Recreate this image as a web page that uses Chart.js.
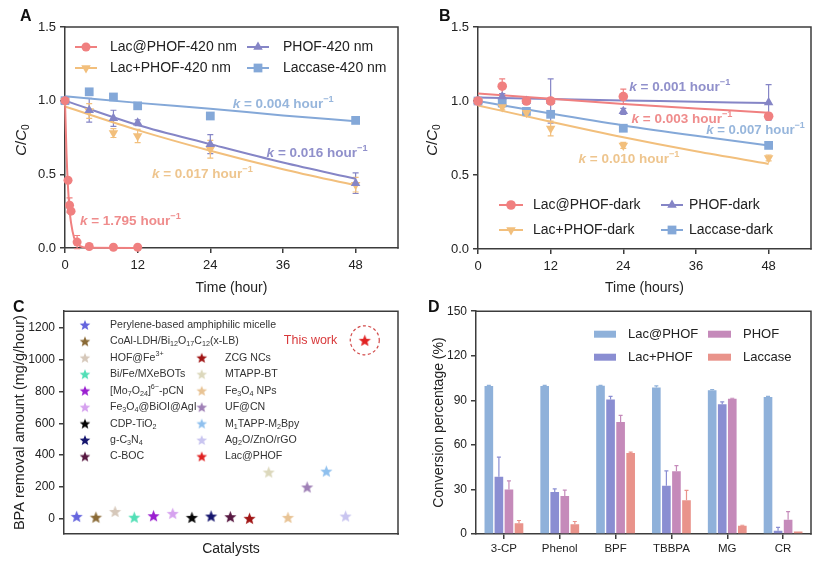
<!DOCTYPE html>
<html><head><meta charset="utf-8">
<script src="https://cdn.jsdelivr.net/npm/chart.js@4/dist/chart.umd.min.js"></script>
<style>
html,body{margin:0;padding:0;background:#fff}
#fig{position:relative;width:822px;height:564px;overflow:hidden;background:#fff}
#fig canvas{position:absolute}
.pl{position:absolute;font:bold 16px 'Liberation Sans',Arial,sans-serif;color:#111;line-height:18px}
</style></head>
<body><div id="fig">
<canvas id="cA" width="411" height="300" style="left:0px;top:0px"></canvas>
<canvas id="cB" width="411" height="300" style="left:411px;top:0px"></canvas>
<canvas id="cC" width="411" height="264" style="left:0px;top:300px"></canvas>
<canvas id="cD" width="411" height="264" style="left:411px;top:300px"></canvas>
<div class="pl" style="left:20px;top:7px">A</div>
<div class="pl" style="left:439px;top:7px">B</div>
<div class="pl" style="left:13px;top:298px">C</div>
<div class="pl" style="left:428px;top:298px">D</div>
</div>
<script>
// ===================== DATA =====================
// Panel A (420 nm)
const timeA_lacAt = [0, 0.5, 0.75, 1, 2, 4, 8, 12];
const valA_lacAt  = [1.0, 0.46, 0.29, 0.25, 0.04, 0.01, 0.005, 0.005];
const errA_lacAt  = [0, 0, 0.05, 0, 0.045, 0, 0, 0];
const timeA = [0, 4, 8, 12, 24, 48];
const valA_lacPlus  = [1.0, 0.93, 0.78, 0.76, 0.67, 0.43];
const errA_lacPlus  = [0, 0.05, 0.03, 0.045, 0.06, 0.05];
const valA_phof     = [1.0, 0.935, 0.88, 0.85, 0.705, 0.44];
const errA_phof     = [0, 0.08, 0.055, 0.02, 0.065, 0.07];
const valA_laccase  = [1.0, 1.06, 1.025, 0.965, 0.896, 0.866];
const errA_laccase  = [0, 0.02, 0.015, 0.015, 0.02, 0.01];
// fitted curves
const fitA_lacAt_t = [0, 0.25, 0.5, 0.75, 1, 1.5, 2, 3, 4, 12];
const fitA_lacAt_v = [1.0, 0.64, 0.41, 0.26, 0.17, 0.07, 0.03, 0.005, 0.001, 0];
const fitA_t = [0, 12, 24, 36, 48];
const fitA_lacPlus = [0.96, 0.80, 0.66, 0.535, 0.425];
const fitA_phof    = [1.0, 0.835, 0.705, 0.58, 0.47];
const fitA_laccase = [1.03, 0.985, 0.945, 0.9, 0.86];
const kA = ['*k* = 0.004 hour^{−1}', '*k* = 0.016 hour^{−1}', '*k* = 0.017 hour^{−1}', '*k* = 1.795 hour^{−1}'];
const legA = ['Lac@PHOF-420 nm', 'PHOF-420 nm', 'Lac+PHOF-420 nm', 'Laccase-420 nm'];

// Panel B (dark)
const timeB = [0, 4, 8, 12, 24, 48];
const valB_lacAt   = [1.0, 1.10, 1.0, 1.0, 1.03, 0.897];
const errB_lacAt   = [0, 0.05, 0.02, 0.02, 0.05, 0.02];
const valB_lacPlus = [1.0, 0.96, 0.92, 0.815, 0.70, 0.615];
const errB_lacPlus = [0, 0.02, 0.02, 0.05, 0.02, 0.02];
const valB_phof    = [1.0, 1.03, 1.0, 1.0, 0.93, 0.99];
const errB_phof    = [0, 0.02, 0.02, 0.15, 0.02, 0.12];
const valB_laccase = [1.0, 0.986, 0.93, 0.91, 0.816, 0.70];
const errB_laccase = [0, 0.01, 0.01, 0.01, 0.02, 0.01];
const fitB_t = [0, 12, 24, 36, 48];
const fitB_lacAt   = [1.05, 1.015, 0.98, 0.95, 0.92];
const fitB_lacPlus = [0.97, 0.86, 0.755, 0.66, 0.575];
const fitB_phof    = [1.023, 1.013, 1.004, 0.995, 0.986];
const fitB_laccase = [1.0, 0.915, 0.835, 0.765, 0.70];
const kB = ['*k* = 0.001 hour^{−1}', '*k* = 0.003 hour^{−1}', '*k* = 0.007 hour^{−1}', '*k* = 0.010 hour^{−1}'];
const legB = ['Lac@PHOF-dark', 'PHOF-dark', 'Lac+PHOF-dark', 'Laccase-dark'];

const timeTicks = [0, 12, 24, 36, 48];
const ratioTicks = [0, 0.5, 1.0, 1.5];

// Panel C
const catalysts = ['Perylene-based amphiphilic micelle', 'CoAl-LDH/Bi_{12}O_{17}C_{12}(x-LB)', 'HOF@Fe^{3+}',
  'Bi/Fe/MXeBOTs', '[Mo_{7}O_{24}]^{6−}-pCN', 'Fe_{3}O_{4}@BiOI@AgI', 'CDP-TiO_{2}', 'g-C_{3}N_{4}', 'C-BOC',
  'ZCG NCs', 'MTAPP-BT', 'Fe_{3}O_{4} NPs', 'UF@CN', 'M_{1}TAPP-M_{2}Bpy', 'Ag_{2}O/ZnO/rGO', 'Lac@PHOF'];
const bpaRemoval = [15, 10, 46, 10, 19, 34, 9, 17, 13, 3, 294, 9, 200, 300, 17, 1123];
const removalTicks = [0, 200, 400, 600, 800, 1000, 1200];

// Panel D
const compounds = ['3-CP', 'Phenol', 'BPF', 'TBBPA', 'MG', 'CR'];
const dLacAt      = [99.6, 99.7, 99.8, 98.7, 96.7, 92.2];
const dLacAtErr   = [0.4, 0.3, 0.2, 1.0, 0.6, 0.4];
const dLacPlus    = [38.5, 28.2, 90.6, 32.5, 87.3, 2.2];
const dLacPlusErr = [13.2, 2.2, 2.0, 10.0, 1.6, 2.3];
const dPhof       = [30.0, 25.6, 75.4, 42.2, 91.0, 9.6];
const dPhofErr    = [5.8, 4.0, 4.4, 3.8, 0.4, 5.4];
const dLaccase    = [7.3, 6.6, 54.6, 22.8, 5.6, 1.6];
const dLaccaseErr = [1.8, 1.8, 0.5, 6.6, 0.3, 0];
const convTicks = [0, 30, 60, 90, 120, 150];

// ===================== STYLE =====================
const FONT = "'Liberation Sans', Arial, Helvetica, sans-serif";
const AXIS = '#3c3c3c';
const COL = {red:'#f08080', orange:'#f2bf7c', purple:'#8585c6', blue:'#84a8d8'};
const KCOL = {red:'#ef8c8c', orange:'#eec58e', purple:'#9090cb', blue:'#97b6dc'};
const DCOL = ['#8fb1da', '#8a8ed2', '#c58aba', '#e9938b'];
const STARCOL = ['#6565de', '#8a6a36', '#d6c8ba', '#52dfb6', '#9a1fd0', '#d6a2ef', '#050505', '#16166e',
  '#581942', '#a01414', '#dcd8bc', '#e8c394', '#9f80b6', '#8fc0ee', '#c9c5f0', '#e02222'];

Chart.defaults.font.family = FONT;
Chart.defaults.color = '#222';
Chart.defaults.animation = false;

// ===================== HELPERS =====================
function xy(xs, ys){ return xs.map((x, i) => ({x: x, y: ys[i]})); }

function parseRich(str){
  const segs = []; let italic = false; let buf = ''; let i = 0;
  const push = () => { if (buf) { segs.push({t: buf, italic: italic, mode: 'n'}); buf = ''; } };
  while (i < str.length){
    const c = str[i];
    if (c === '*'){ push(); italic = !italic; i++; continue; }
    if ((c === '_' || c === '^') && str[i+1] === '{'){
      push(); const end = str.indexOf('}', i);
      segs.push({t: str.slice(i+2, end), italic: italic, mode: c === '_' ? 'sub' : 'sup'});
      i = end + 1; continue;
    }
    buf += c; i++;
  }
  push(); return segs;
}
function drawRich(ctx, str, x, y, size, color, weight, align){
  const segs = parseRich(str);
  const fontFor = s => (s.italic ? 'italic ' : '') + (weight || 'normal') + ' ' + (s.mode === 'n' ? size : size*0.68) + 'px ' + FONT;
  let w = 0;
  segs.forEach(s => { ctx.font = fontFor(s); s.w = ctx.measureText(s.t).width; w += s.w; });
  let cx = align === 'right' ? x - w : (align === 'center' ? x - w/2 : x);
  ctx.fillStyle = color; ctx.textBaseline = 'middle'; ctx.textAlign = 'left';
  segs.forEach(s => {
    ctx.font = fontFor(s);
    const dy = s.mode === 'sub' ? size*0.28 : (s.mode === 'sup' ? -size*0.36 : 0);
    ctx.fillText(s.t, cx, y + dy); cx += s.w;
  });
}
function drawMarker(ctx, style, x, y, r, rot){
  ctx.beginPath();
  if (style === 'circle'){ ctx.arc(x, y, r, 0, Math.PI*2); }
  else if (style === 'rect'){ const s = r*Math.SQRT1_2; ctx.rect(x-s, y-s, 2*s, 2*s); }
  else if (style === 'triangle'){
    const a0 = (rot || 0) * Math.PI/180;
    for (let k = 0; k < 3; k++){
      const a = a0 - Math.PI/2 + k*2*Math.PI/3;
      const px = x + r*Math.cos(a), py = y + r*Math.sin(a);
      if (k === 0) ctx.moveTo(px, py); else ctx.lineTo(px, py);
    }
    ctx.closePath();
  }
  ctx.fill();
}
function starCanvas(color, R){
  const s = Math.ceil(R*2 + 2);
  const c = document.createElement('canvas'); c.width = s; c.height = s;
  const g = c.getContext('2d');
  g.translate(s/2, s/2 + R*0.1);
  g.beginPath();
  for (let k = 0; k < 10; k++){
    const r = k % 2 === 0 ? R : R*0.43;
    const a = -Math.PI/2 + k*Math.PI/5;
    g.lineTo(r*Math.cos(a), r*Math.sin(a));
  }
  g.closePath(); g.fillStyle = color; g.fill();
  return c;
}

// ===================== PLUGINS =====================
function drawErr(chart, after){
  const ctx = chart.ctx, ys = chart.scales.y;
  const isBar = chart.config.type === 'bar';
  if (isBar !== after) return;
  chart.data.datasets.forEach((ds, di) => {
    if (!ds.errors) return;
    const meta = chart.getDatasetMeta(di);
    ctx.save(); ctx.strokeStyle = ds.errColor || ds.borderColor || ds.backgroundColor; ctx.lineWidth = 1.2;
    const cap = isBar ? 2 : 3;
    meta.data.forEach((el, i) => {
      const e = ds.errors[i]; if (!e) return;
      const v = isBar ? ds.data[i] : ds.data[i].y;
      const x = el.x;
      const yTop = ys.getPixelForValue(v + e);
      const yBot = isBar ? ys.getPixelForValue(v) : ys.getPixelForValue(v - e);
      ctx.beginPath();
      ctx.moveTo(x, yBot); ctx.lineTo(x, yTop);
      ctx.moveTo(x-cap, yTop); ctx.lineTo(x+cap, yTop);
      if (!isBar){ ctx.moveTo(x-cap, yBot); ctx.lineTo(x+cap, yBot); }
      ctx.stroke();
    });
    ctx.restore();
  });
}
const errPlugin = {
  id: 'errBars',
  beforeDatasetsDraw(chart){ drawErr(chart, false); },
  afterDatasetsDraw(chart){ drawErr(chart, true); }
};
const framePlugin = {
  id: 'frame',
  afterDraw(chart){
    const ctx = chart.ctx, ca = chart.chartArea;
    ctx.save(); ctx.strokeStyle = AXIS; ctx.lineWidth = 1.5;
    ctx.beginPath(); ctx.moveTo(ca.left - 0.75, ca.top); ctx.lineTo(ca.right, ca.top); ctx.lineTo(ca.right, ca.bottom + 0.75); ctx.stroke();
    ctx.restore();
  }
};
const richPlugin = {
  id: 'richNotes',
  afterDraw(chart, args, opts){
    const ctx = chart.ctx, xs = chart.scales.x, ys = chart.scales.y, ca = chart.chartArea;
    (opts.items || []).forEach(it => {
      let px, py;
      if (it.abs){ px = it.x; py = it.y; }
      else if (it.data){ px = xs.getPixelForValue(it.x); py = ys.getPixelForValue(it.y); }
      else { px = ca.left + it.x; py = ca.top + it.y; }
      px += it.dx || 0; py += it.dy || 0;
      ctx.save();
      if (it.rotate){ ctx.translate(px, py); ctx.rotate(it.rotate); px = 0; py = 0; }
      drawRich(ctx, it.text, px, py, it.size, it.color, it.weight, it.align || 'left');
      ctx.restore();
    });
    (opts.circles || []).forEach(c => {
      const px = xs.getPixelForValue(c.x), py = ys.getPixelForValue(c.y);
      ctx.save(); ctx.strokeStyle = c.color; ctx.lineWidth = 1.2; ctx.setLineDash([3, 2.5]);
      ctx.beginPath(); ctx.arc(px, py, c.r, 0, Math.PI*2); ctx.stroke(); ctx.restore();
    });
  }
};
const legendPlugin = {
  id: 'panelLegend',
  afterDraw(chart, args, opts){
    const ctx = chart.ctx, ca = chart.chartArea;
    (opts.items || []).forEach(it => {
      const x0 = ca.left + it.x, y0 = ca.top + it.y;
      ctx.save();
      if (it.kind === 'line'){
        ctx.strokeStyle = it.color; ctx.lineWidth = 2;
        ctx.beginPath(); ctx.moveTo(x0, y0); ctx.lineTo(x0 + it.w, y0); ctx.stroke();
        ctx.fillStyle = it.color;
        drawMarker(ctx, it.style, x0 + it.w/2, y0, it.r, it.rot);
      } else if (it.kind === 'rect'){
        ctx.fillStyle = it.color; ctx.fillRect(x0, y0 - it.h/2, it.w, it.h);
      } else if (it.kind === 'star'){
        ctx.drawImage(it.img, x0 - it.img.width/2, y0 - it.img.height/2);
      }
      drawRich(ctx, it.label, ca.left + it.tx, y0, it.size, it.textColor || '#222', it.weight || 'normal', 'left');
      ctx.restore();
    });
  }
};
const PLUGINS = [errPlugin, framePlugin, richPlugin, legendPlugin];

function markerDS(label, xs, ys, errs, color, style, r, rot){
  return {label: label, data: xy(xs, ys), errors: errs, backgroundColor: color, borderColor: color,
    pointStyle: style, pointRadius: r, pointRotation: rot || 0, pointBorderWidth: 0, showLine: false, clip: false};
}
function fitDS(xs, ys, color){
  return {data: xy(xs, ys), borderColor: color, backgroundColor: color, borderWidth: 2, pointRadius: 0,
    showLine: true, cubicInterpolationMode: 'monotone', clip: false, fill: false};
}
function axis(extra){
  const base = {
    border: {display: true, color: AXIS, width: 1.5},
    grid: {display: true, drawOnChartArea: false, drawTicks: true, tickLength: 5, color: AXIS, lineWidth: 1.5},
    ticks: {color: '#222', font: {size: 13}, padding: 4}
  };
  return Object.assign(base, extra);
}
function fixTicks(arr){ return s => { s.ticks = arr.map(v => ({value: v})); }; }

// ===================== PANEL A =====================
new Chart(document.getElementById('cA'), {
  type: 'scatter',
  data: {datasets: [
    markerDS(legA[0], timeA_lacAt, valA_lacAt, errA_lacAt, COL.red, 'circle', 4.5, 0),
    markerDS(legA[1], timeA, valA_phof, errA_phof, COL.purple, 'triangle', 5.5, 0),
    markerDS(legA[2], timeA, valA_lacPlus, errA_lacPlus, COL.orange, 'triangle', 5.5, 180),
    markerDS(legA[3], timeA, valA_laccase, errA_laccase, COL.blue, 'rect', 6.2, 0),
    fitDS(fitA_lacAt_t, fitA_lacAt_v, COL.red),
    fitDS(fitA_t, fitA_phof, COL.purple),
    fitDS(fitA_t, fitA_lacPlus, COL.orange),
    fitDS(fitA_t, fitA_laccase, COL.blue)
  ]},
  options: {
    responsive: false, animation: false, devicePixelRatio: 1,
    layout: {padding: {left: 6, top: 27, right: 13, bottom: 0}},
    plugins: {
      legend: {display: false}, tooltip: {enabled: false},
      richNotes: {items: [
        {abs: true, x: 22, y: 140, rotate: -Math.PI/2, text: '*C*/*C*_{0}', size: 15, color: '#222', align: 'center'},
        {data: true, x: 27.7, y: 0.975, text: kA[0], size: 13.5, weight: 'bold', color: KCOL.blue},
        {data: true, x: 33.3, y: 0.644, text: kA[1], size: 13.5, weight: 'bold', color: KCOL.purple},
        {data: true, x: 14.35, y: 0.502, text: kA[2], size: 13.5, weight: 'bold', color: KCOL.orange},
        {data: true, x: 2.47, y: 0.178, text: kA[3], size: 13.5, weight: 'bold', color: KCOL.red}
      ]},
      panelLegend: {items: [
        {kind: 'line', x: 10, y: 20, w: 22, color: COL.red, style: 'circle', r: 4.5, label: legA[0], tx: 45, size: 14},
        {kind: 'line', x: 182, y: 20, w: 22, color: COL.purple, style: 'triangle', r: 5.5, label: legA[1], tx: 218, size: 14},
        {kind: 'line', x: 10, y: 41, w: 22, color: COL.orange, style: 'triangle', r: 5.5, rot: 180, label: legA[2], tx: 45, size: 14},
        {kind: 'line', x: 182, y: 41, w: 22, color: COL.blue, style: 'rect', r: 6.2, label: legA[3], tx: 218, size: 14}
      ]}
    },
    scales: {
      x: axis({type: 'linear', min: 0, max: 55, afterBuildTicks: fixTicks(timeTicks), afterFit: s => { s.height = 52; },
        ticks: {color: '#222', font: {size: 13}, padding: 5},
        title: {display: true, text: 'Time (hour)', font: {size: 14}, color: '#222', padding: {top: 0, bottom: 3}}}),
      y: axis({min: 0, max: 1.5, afterBuildTicks: fixTicks(ratioTicks), afterFit: s => { s.width = 59; },
        ticks: {color: '#222', font: {size: 13}, padding: 4, callback: v => Number(v).toFixed(1)}})
    }
  },
  plugins: PLUGINS
});

// ===================== PANEL B =====================
new Chart(document.getElementById('cB'), {
  type: 'scatter',
  data: {datasets: [
    markerDS(legB[0], timeB, valB_lacAt, errB_lacAt, COL.red, 'circle', 4.8, 0),
    markerDS(legB[1], timeB, valB_phof, errB_phof, COL.purple, 'triangle', 5.5, 0),
    markerDS(legB[2], timeB, valB_lacPlus, errB_lacPlus, COL.orange, 'triangle', 5.5, 180),
    markerDS(legB[3], timeB, valB_laccase, errB_laccase, COL.blue, 'rect', 6.2, 0),
    fitDS(fitB_t, fitB_lacAt, COL.red),
    fitDS(fitB_t, fitB_phof, COL.purple),
    fitDS(fitB_t, fitB_lacPlus, COL.orange),
    fitDS(fitB_t, fitB_laccase, COL.blue)
  ]},
  options: {
    responsive: false, animation: false, devicePixelRatio: 1,
    layout: {padding: {left: 7, top: 27, right: 11, bottom: 0}},
    plugins: {
      legend: {display: false}, tooltip: {enabled: false},
      richNotes: {items: [
        {abs: true, x: 22, y: 140, rotate: -Math.PI/2, text: '*C*/*C*_{0}', size: 15, color: '#222', align: 'center'},
        {data: true, x: 25.0, y: 1.095, text: kB[0], size: 13.5, weight: 'bold', color: KCOL.purple},
        {data: true, x: 25.35, y: 0.878, text: kB[1], size: 13.5, weight: 'bold', color: KCOL.red},
        {data: true, x: 37.7, y: 0.804, text: kB[2], size: 13.2, weight: 'bold', color: KCOL.blue},
        {data: true, x: 16.6, y: 0.608, text: kB[3], size: 13.5, weight: 'bold', color: KCOL.orange}
      ]},
      panelLegend: {items: [
        {kind: 'line', x: 21, y: 178, w: 24, color: COL.red, style: 'circle', r: 4.8, label: legB[0], tx: 55, size: 14},
        {kind: 'line', x: 183, y: 178, w: 22, color: COL.purple, style: 'triangle', r: 5.5, label: legB[1], tx: 211, size: 14},
        {kind: 'line', x: 21, y: 203, w: 24, color: COL.orange, style: 'triangle', r: 5.5, rot: 180, label: legB[2], tx: 55, size: 14},
        {kind: 'line', x: 183, y: 203, w: 22, color: COL.blue, style: 'rect', r: 6.2, label: legB[3], tx: 211, size: 14}
      ]}
    },
    scales: {
      x: axis({type: 'linear', min: 0, max: 55, afterBuildTicks: fixTicks(timeTicks), afterFit: s => { s.height = 51; },
        ticks: {color: '#222', font: {size: 13}, padding: 5},
        title: {display: true, text: 'Time (hours)', font: {size: 14}, color: '#222', padding: {top: 0, bottom: 3}}}),
      y: axis({min: 0, max: 1.5, afterBuildTicks: fixTicks(ratioTicks), afterFit: s => { s.width = 60; },
        ticks: {color: '#222', font: {size: 13}, padding: 4, callback: v => Number(v).toFixed(1)}})
    }
  },
  plugins: PLUGINS
});

// ===================== PANEL C =====================
const plotStars = STARCOL.map(c => starCanvas(c, 6.4));
const legStars = STARCOL.map(c => starCanvas(c, 5.6));
const catX = catalysts.map((_, i) => i + 1);
const legCItems = catalysts.map((name, i) => {
  const col2 = i >= 9;
  const row = col2 ? i - 7 : i;
  return {kind: 'star', img: legStars[i], x: col2 ? 137.7 : 21, y: 13.7 + row*16.45,
    label: name, tx: col2 ? 161 : 46, size: 10.6, textColor: '#333'};
});
new Chart(document.getElementById('cC'), {
  type: 'scatter',
  data: {datasets: [{label: 'BPA removal', data: xy(catX, bpaRemoval), pointStyle: plotStars,
    pointRadius: 6, clip: false, showLine: false}]},
  options: {
    responsive: false, animation: false, devicePixelRatio: 1,
    layout: {padding: {left: 6, top: 10, right: 13, bottom: 0}},
    plugins: {
      legend: {display: false}, tooltip: {enabled: false},
      richNotes: {
        items: [{data: true, x: catX[15], y: bpaRemoval[15], dx: -27.5, text: 'This work', size: 12.5, color: '#d8393b', align: 'right'}],
        circles: [{x: catX[15], y: bpaRemoval[15], r: 14.5, color: '#d24a4a'}]
      },
      panelLegend: {items: legCItems}
    },
    scales: {
      x: axis({type: 'linear', min: 0.34, max: 17.73, afterFit: s => { s.height = 30; },
        grid: {display: false}, ticks: {display: false},
        title: {display: true, text: 'Catalysts', font: {size: 14}, color: '#222', padding: {top: 0, bottom: 6.6}}}),
      y: axis({min: -96, max: 1306, afterBuildTicks: fixTicks(removalTicks), afterFit: s => { s.width = 58; },
        ticks: {color: '#222', font: {size: 12}, padding: 4, callback: v => String(v)},
        title: {display: true, text: 'BPA removal amount (mg/g/hour)', font: {size: 14.5}, color: '#222', padding: {top: 5.3, bottom: 0}}})
    }
  },
  plugins: PLUGINS
});

// ===================== PANEL D =====================
function barDS(label, vals, errs, color){
  return {label: label, data: vals, errors: errs, backgroundColor: color, borderColor: color, borderWidth: 0,
    categoryPercentage: 0.72, barPercentage: 0.86};
}
new Chart(document.getElementById('cD'), {
  type: 'bar',
  data: {labels: compounds, datasets: [
    barDS('Lac@PHOF', dLacAt, dLacAtErr, DCOL[0]),
    barDS('Lac+PHOF', dLacPlus, dLacPlusErr, DCOL[1]),
    barDS('PHOF', dPhof, dPhofErr, DCOL[2]),
    barDS('Laccase', dLaccase, dLaccaseErr, DCOL[3])
  ]},
  options: {
    responsive: false, animation: false, devicePixelRatio: 1,
    layout: {padding: {left: 6, top: 11, right: 11, bottom: 0}},
    plugins: {
      legend: {display: false}, tooltip: {enabled: false},
      panelLegend: {items: [
        {kind: 'rect', x: 118, y: 23, w: 22, h: 7, color: DCOL[0], label: 'Lac@PHOF', tx: 152, size: 13},
        {kind: 'rect', x: 232, y: 23, w: 23, h: 7, color: DCOL[2], label: 'PHOF', tx: 267, size: 13},
        {kind: 'rect', x: 118, y: 46, w: 22, h: 7, color: DCOL[1], label: 'Lac+PHOF', tx: 152, size: 13},
        {kind: 'rect', x: 232, y: 46, w: 23, h: 7, color: DCOL[3], label: 'Laccase', tx: 267, size: 13}
      ]}
    },
    scales: {
      x: axis({afterFit: s => { s.height = 30; },
        grid: {display: true, offset: false, drawOnChartArea: false, drawTicks: true, tickLength: 5, color: AXIS, lineWidth: 1.5},
        ticks: {color: '#222', font: {size: 11.5}, padding: 3}}),
      y: axis({min: 0, max: 150, afterBuildTicks: fixTicks(convTicks), afterFit: s => { s.width = 59; },
        ticks: {color: '#222', font: {size: 12}, padding: 4},
        title: {display: true, text: 'Conversion percentage (%)', font: {size: 14}, color: '#222', padding: {top: 13.6, bottom: 0}}})
    }
  },
  plugins: PLUGINS
});
</script>
</body></html>
